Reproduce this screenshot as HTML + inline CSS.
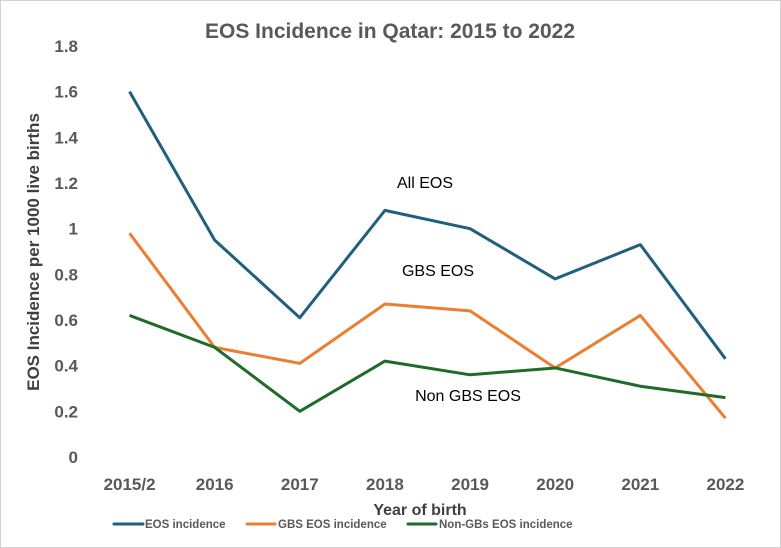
<!DOCTYPE html>
<html><head><meta charset="utf-8"><style>
body{margin:0;background:#fff;}
svg{display:block;font-family:"Liberation Sans",sans-serif;}
</style></head><body>
<svg id="chart" width="781" height="548">
<rect x="0.5" y="0.5" width="780" height="547" fill="#fff" stroke="#d0d0d0"/>
<text x="390" y="38" text-anchor="middle" font-size="21" font-weight="bold" fill="#595959">EOS Incidence in Qatar: 2015 to 2022</text>
<text transform="translate(39,252) rotate(-90)" text-anchor="middle" font-size="17" font-weight="bold" fill="#404040">EOS Incidence per 1000 live births</text>
<text x="420" y="515" text-anchor="middle" font-size="16" font-weight="bold" fill="#404040">Year of birth</text>
<g id="yticks"></g><g id="xticks"></g><g id="series"></g><g id="labels"></g>
<g>
<line x1="114" y1="524" x2="143" y2="524" stroke="#215F7E" stroke-width="3" stroke-linecap="round"/>
<text x="145" y="528" font-size="11.5" font-weight="bold" fill="#595959">EOS incidence</text>
<line x1="247" y1="524" x2="275" y2="524" stroke="#ED7D31" stroke-width="3" stroke-linecap="round"/>
<text x="278" y="528" font-size="11.5" font-weight="bold" fill="#595959">GBS EOS incidence</text>
<line x1="408" y1="524" x2="436" y2="524" stroke="#1E6B2A" stroke-width="3" stroke-linecap="round"/>
<text x="439" y="528" font-size="11.5" font-weight="bold" fill="#595959">Non-GBs EOS incidence</text>
</g>
</svg>
<script>
const categories=["2015/2","2016","2017","2018","2019","2020","2021","2022"];
const eos=[1.6,0.95,0.61,1.08,1.0,0.78,0.93,0.43];
const gbs=[0.98,0.48,0.41,0.67,0.64,0.39,0.62,0.17];
const nongbs=[0.62,0.48,0.2,0.42,0.36,0.39,0.31,0.26];
const yTicks=[0,0.2,0.4,0.6,0.8,1,1.2,1.4,1.6,1.8];
const yTickLabels=["0","0.2","0.4","0.6","0.8","1","1.2","1.4","1.6","1.8"];
const NS="http://www.w3.org/2000/svg";
const x0=87,x1=768,y0=457,y1=46;
const xs=i=>x0+(x1-x0)/categories.length*(i+0.5);
const ys=v=>y0-(y0-y1)*v/1.8;
function mk(t,a,p){const e=document.createElementNS(NS,t);for(const k in a)e.setAttribute(k,a[k]);p.appendChild(e);return e;}
const yt=document.getElementById('yticks');
yTicks.forEach((v,i)=>{const t=mk('text',{x:78,y:ys(v)+6,'text-anchor':'end','font-size':17,'font-weight':'bold',fill:'#595959'},yt);t.textContent=yTickLabels[i];

});
const xt=document.getElementById('xticks');
categories.forEach((c,i)=>{const t=mk('text',{x:xs(i),y:490,'text-anchor':'middle','font-size':17,'font-weight':'bold',fill:'#595959'},xt);t.textContent=c;

});
const sg=document.getElementById('series');
[[eos,'#215F7E','line-eos'],[gbs,'#ED7D31','line-gbs'],[nongbs,'#1E6B2A','line-nongbs']].forEach(s=>{
const p=mk('polyline',{points:s[0].map((v,i)=>xs(i)+','+ys(v)).join(' '),fill:'none',stroke:s[1],'stroke-width':3,'stroke-linejoin':'round'},sg);

});
const lg=document.getElementById('labels');
[["All EOS",425,188,'label-all-eos'],["GBS EOS",438,276,'label-gbs-eos'],["Non GBS EOS",468,401,'label-non-gbs-eos']].forEach(l=>{
const t=mk('text',{x:l[1],y:l[2],'text-anchor':'middle','font-size':16,fill:'#000'},lg);t.textContent=l[0];

});
</script>
</body></html>
